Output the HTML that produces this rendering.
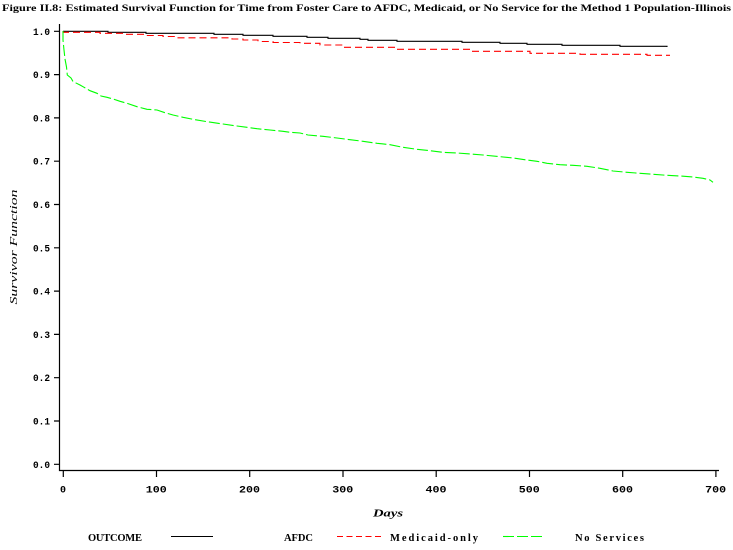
<!DOCTYPE html>
<html><head><meta charset="utf-8"><style>
html,body{margin:0;padding:0;background:#fff;}
svg{display:block;}
</style></head><body>
<svg width="733" height="550" viewBox="0 0 733 550" xmlns="http://www.w3.org/2000/svg">
<rect width="733" height="550" fill="#fff"/>
<!-- Title -->
<text x="2" y="11" font-family="Liberation Serif, serif" font-weight="bold" font-size="9.5" textLength="729" lengthAdjust="spacingAndGlyphs">Figure II.8:  Estimated Survival Function for Time from Foster Care to AFDC, Medicaid, or No Service for the Method 1 Population-Illinois</text>

<!-- Axes -->
<g stroke="#000" stroke-width="1.2" fill="none">
<path d="M59.5 24 V470.5 H719"/>
<path d="M54 31.3H59.5 M54 74.6H59.5 M54 117.9H59.5 M54 161.2H59.5 M54 204.5H59.5 M54 247.8H59.5 M54 291.1H59.5 M54 334.4H59.5 M54 377.7H59.5 M54 421H59.5 M54 464.3H59.5"/>
<path d="M63.3 470.5V477 M156.5 470.5V477 M249.7 470.5V477 M343 470.5V477 M436.2 470.5V477 M529.5 470.5V477 M622.7 470.5V477 M715.9 470.5V477"/>
</g>

<!-- Y tick labels -->
<g font-family="Liberation Mono, monospace" font-size="10" font-weight="bold" text-anchor="end">
<text x="50" y="34.8" textLength="17" lengthAdjust="spacingAndGlyphs">1.0</text>
<text x="50" y="78.1" textLength="17" lengthAdjust="spacingAndGlyphs">0.9</text>
<text x="50" y="121.4" textLength="17" lengthAdjust="spacingAndGlyphs">0.8</text>
<text x="50" y="164.7" textLength="17" lengthAdjust="spacingAndGlyphs">0.7</text>
<text x="50" y="208" textLength="17" lengthAdjust="spacingAndGlyphs">0.6</text>
<text x="50" y="251.3" textLength="17" lengthAdjust="spacingAndGlyphs">0.5</text>
<text x="50" y="294.6" textLength="17" lengthAdjust="spacingAndGlyphs">0.4</text>
<text x="50" y="337.9" textLength="17" lengthAdjust="spacingAndGlyphs">0.3</text>
<text x="50" y="381.2" textLength="17" lengthAdjust="spacingAndGlyphs">0.2</text>
<text x="50" y="424.5" textLength="17" lengthAdjust="spacingAndGlyphs">0.1</text>
<text x="50" y="467.8" textLength="17" lengthAdjust="spacingAndGlyphs">0.0</text>
</g>

<!-- X tick labels -->
<g font-family="Liberation Mono, monospace" font-size="10" font-weight="bold" text-anchor="middle">
<text x="63" y="492.5">0</text>
<text x="156.3" y="492.5" textLength="21" lengthAdjust="spacingAndGlyphs">100</text>
<text x="249.5" y="492.5" textLength="21" lengthAdjust="spacingAndGlyphs">200</text>
<text x="342.8" y="492.5" textLength="21" lengthAdjust="spacingAndGlyphs">300</text>
<text x="436" y="492.5" textLength="21" lengthAdjust="spacingAndGlyphs">400</text>
<text x="529.3" y="492.5" textLength="21" lengthAdjust="spacingAndGlyphs">500</text>
<text x="622.5" y="492.5" textLength="21" lengthAdjust="spacingAndGlyphs">600</text>
<text x="715.7" y="492.5" textLength="21" lengthAdjust="spacingAndGlyphs">700</text>
</g>

<!-- Axis labels -->
<text x="388" y="516.5" font-family="Liberation Serif, serif" font-style="italic" font-weight="bold" font-size="11" text-anchor="middle" textLength="30" lengthAdjust="spacingAndGlyphs">Days</text>
<text transform="translate(17,247) rotate(-90)" x="0" y="0" font-family="Liberation Serif, serif" font-style="italic" font-size="11" text-anchor="middle" textLength="115" lengthAdjust="spacingAndGlyphs">Survivor Function</text>

<!-- AFDC (black solid) -->
<path fill="none" stroke="#000" stroke-width="1.1" d="M63 31.3 H108 V32.3 H146 V33.3 H214 V34.3 H243 V35.3 H273 V36.3 H307 V37.3 H328 V38.3 H360 V39.3 H368 V40.3 H397 V41.3 H462 V42.3 H500 V43.3 H527 V44.3 H562 V45.3 H620 V46.3 H667 V47"/>

<!-- Medicaid-only (red dashed) -->
<path fill="none" stroke="#ff0000" stroke-width="1.1" stroke-dasharray="7,4" d="M63 31.3 V32.3 H100 V33.3 H125 V34.3 H146 V35.5 H163 V36.5 H175 V37.8 H232 V39 H243 V40 H258 V41.5 H273 V42.5 H300 V43.3 H320 V45 H343 V47.3 H397 V49.3 H470 V51.3 H530 V53.3 H580 V54.3 H647 V55.3 H670"/>

<!-- No Services (green dashed) -->
<polyline fill="none" stroke="#00ff00" stroke-width="1.1" stroke-dasharray="11,3" points="63,31 63,40 64,50 65,59 66.5,67 67.3,75 71,78 73,81.5 80,85 83,86.7 90,90.7 97,93.3 101,96 107,97.3 113,99 120,101.3 127,103.3 137,106.7 147,109.3 157,110 165,112.7 173,115 183,117.3 193,119.3 207,121.7 223,124 237,126 247,127.3 257,128.7 270,130 283,131.3 290,132.3 300,133 308,135 323,136.3 337,138 350,139.7 363,141.3 377,143.3 390,144.7 403,147.3 417,149.3 430,150.7 443,152.3 457,153 470,154 483,155 500,156.7 513,158 527,160 537,161.3 547,163.3 560,164.7 573,165.3 587,166.3 600,168.3 613,171 627,172.3 640,173.3 653,174.3 667,175.3 680,176 693,177 703,178.3 710,180 713,182.3"/>

<!-- Legend -->
<g font-family="Liberation Serif, serif" font-size="10.5" font-weight="bold">
<text x="88" y="541" textLength="54" lengthAdjust="spacing">OUTCOME</text>
<text x="284" y="541" textLength="29" lengthAdjust="spacing">AFDC</text>
<text x="390" y="541" textLength="88" lengthAdjust="spacing">Medicaid-only</text>
<text x="575" y="541" textLength="69" lengthAdjust="spacing">No Services</text>
</g>
<line x1="171" y1="536.5" x2="213" y2="536.5" stroke="#000" stroke-width="1.1"/>
<line x1="337" y1="536.5" x2="382" y2="536.5" stroke="#ff0000" stroke-width="1.1" stroke-dasharray="6,3.5"/>
<line x1="503" y1="536.5" x2="545" y2="536.5" stroke="#00ff00" stroke-width="1.1" stroke-dasharray="11,3"/>
</svg>
</body></html>
